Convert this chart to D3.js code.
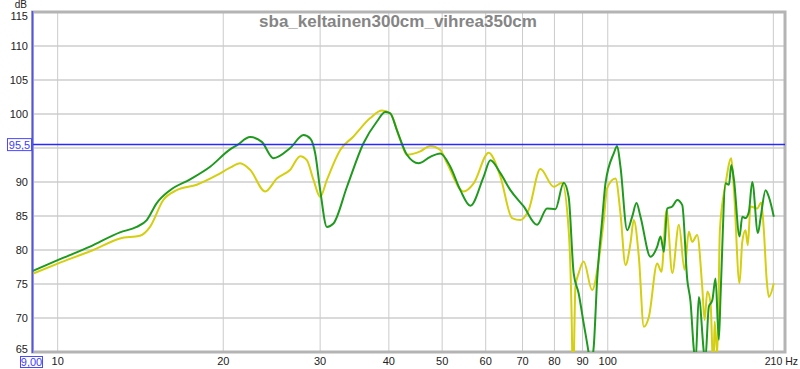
<!DOCTYPE html>
<html>
<head>
<meta charset="utf-8">
<script src="https://cdn.jsdelivr.net/npm/d3@7"></script>
<style>
  body { margin: 0; background: #fff; }
  svg { display: block; font-family: 'Liberation Sans', Arial, sans-serif; }
</style>
</head>
<body>
<script>
'use strict'

const title = 'sba_keltainen300cm_vihrea350cm'

// vihrea (green) trace, 350 cm
const freqGreen = [9.0, 10.0, 11.45, 12.98, 13.92, 14.52, 15.14, 16.01, 17.41, 18.93, 20.58, 21.17, 22.38, 23.5, 24.68, 26.47, 27.98, 28.78, 29.39, 30.01, 30.86, 31.72, 33.57, 35.97, 38.05, 39.4, 40.23, 41.38, 43.15, 45.3, 47.58, 49.62, 51.74, 53.95, 56.26, 59.49, 61.18, 63.8, 66.53, 70.34, 74.38, 77.56, 80.31, 83.15, 84.91, 86.7, 88.54, 90.42, 92.33, 92.99, 94.3, 95.65, 97.68, 99.05, 102.54, 104.01, 105.46, 108.47, 110.77, 112.78, 114.69, 119.61, 123.01, 124.73, 126.47, 128.28, 131.0, 133.77, 136.6, 139.5, 141.4, 143.4, 144.4, 146.4, 149.5, 150.3, 152.7, 154.9, 157.0, 159.2, 160.4, 163.8, 166.1, 167.7, 169.6, 173.6, 175.6, 178.0, 180.5, 183.1, 187.5, 189.6, 193.6, 196.3, 200.4]
const dbGreen = [76.9, 78.5, 80.5, 82.6, 83.4, 84.4, 86.9, 88.8, 90.4, 92.25, 94.8, 95.4, 96.6, 95.9, 93.5, 95.0, 96.9, 96.4, 94.2, 88.8, 83.4, 83.9, 89.3, 95.7, 98.9, 100.3, 100.1, 97.6, 94.0, 92.75, 93.7, 94.2, 92.25, 88.8, 86.5, 90.8, 93.2, 91.3, 88.8, 86.4, 83.7, 86.1, 86.0, 89.9, 87.8, 76.6, 73.6, 69.2, 64.8, 63, 65.8, 75.6, 84.4, 89.8, 94.2, 95.3, 92.25, 82.9, 84.9, 86.9, 84.9, 79.0, 80.5, 82.0, 79.75, 86.1, 86.4, 87.35, 86.6, 75.6, 72.4, 65.3, 63.5, 73.1, 65.0, 63.5, 71.7, 72.6, 75.8, 66.8, 73.6, 89.8, 89.6, 92.5, 90.3, 82.0, 84.9, 84.7, 85.6, 90.0, 82.5, 84.7, 88.8, 87.8, 84.9]

// keltainen (yellow) trace, 300 cm
const freqYellow = [9.0, 10.0, 11.61, 12.98, 14.11, 14.72, 15.56, 16.46, 17.9, 19.47, 20.58, 21.46, 22.38, 23.84, 25.03, 26.47, 27.6, 28.38, 29.18, 30.01, 30.86, 32.63, 34.5, 37.0, 38.86, 40.23, 41.96, 43.15, 45.62, 47.58, 49.62, 51.04, 54.7, 57.05, 60.75, 63.8, 66.99, 69.37, 71.82, 75.42, 79.74, 82.6, 84.91, 86.13, 86.4, 87.34, 88.54, 90.42, 93.67, 96.3, 98.34, 99.75, 103.28, 105.46, 107.7, 109.98, 111.5, 113.9, 116.3, 118.8, 123.01, 125.2, 127.9, 131.0, 134.7, 137.9, 140.4, 142.4, 145.4, 148.5, 150.0, 151.7, 153.8, 154.9, 155.7, 156.4, 158.2, 159.9, 163.8, 167.7, 169.6, 173.6, 175.6, 178.0, 179.7, 181.8, 187.0, 190.1, 192.2, 194.5, 196.3, 200.4]
const dbYellow = [76.5, 78.0, 80.0, 81.7, 82.1, 83.4, 87.35, 88.8, 89.6, 91.0, 92.1, 92.75, 91.8, 88.6, 90.5, 91.8, 93.8, 93.2, 90.3, 87.8, 90.3, 94.7, 96.7, 99.4, 100.5, 100.1, 96.2, 94.0, 94.5, 95.3, 94.7, 92.75, 88.6, 89.8, 94.3, 90.8, 84.7, 84.4, 85.9, 91.9, 89.3, 89.9, 82.9, 66.3, 58, 74.6, 76.6, 78.3, 74.1, 78.5, 84.4, 89.1, 90.5, 85.4, 77.8, 81.0, 84.4, 79.0, 68.7, 70.2, 78.0, 76.8, 85.9, 76.6, 83.7, 77.1, 82.7, 81.2, 82.2, 74.6, 69.7, 73.9, 72.2, 65.3, 62.4, 69.5, 64.6, 82.9, 89.8, 93.5, 88.8, 75.1, 81.2, 82.9, 80.7, 86.4, 86.1, 87.0, 82.9, 75.6, 73.1, 75.1]

const xGrid = [10, 20, 30, 40, 50, 60, 70, 80, 90, 100, 200]
const xLabels = [10, 20, 30, 40, 50, 60, 70, 80, 90, 100]
const yTicks = [65, 70, 75, 80, 85, 90, 95, 100, 105, 110, 115]
// 95 is hidden under the cursor readout
const yLabels = [65, 70, 75, 80, 85, 90, 100, 105, 110, 115]
const cursorDb = 95.5
const cursorHz = 9.0

const width = 800
const height = 369
const plotLeft = 32.5
const plotRight = 785
const plotTop = 12
const plotBottom = 352

const x = d3.scaleLog().domain([9, 210]).range([plotLeft, plotRight])
const y = d3.scaleLinear().domain([65, 115]).range([plotBottom, plotTop])

const svg = d3.select('body').append('svg')
  .attr('width', width)
  .attr('height', height)

svg.append('defs').append('clipPath').attr('id', 'plot')
  .append('rect')
  .attr('x', plotLeft).attr('y', plotTop)
  .attr('width', plotRight - plotLeft).attr('height', plotBottom - plotTop)

// grid
svg.append('g').selectAll('line')
  .data(yTicks)
  .enter().append('line')
  .attr('x1', plotLeft).attr('x2', plotRight)
  .attr('y1', d => y(d)).attr('y2', d => y(d))
  .attr('stroke', '#dadada')
  .attr('stroke-width', 2)

svg.append('g').selectAll('line')
  .data(xGrid)
  .enter().append('line')
  .attr('x1', d => x(d)).attr('x2', d => x(d))
  .attr('y1', plotTop).attr('y2', plotBottom)
  .attr('stroke', '#cbcbcb')
  .attr('stroke-width', 1)

// title sits behind the traces
svg.append('text')
  .attr('x', 398)
  .attr('y', 26.5)
  .attr('text-anchor', 'middle')
  .attr('font-size', 17)
  .attr('font-weight', 'bold')
  .attr('fill', '#858585')
  .text(title)

// frame
svg.append('rect')
  .attr('x', plotLeft).attr('y', plotTop)
  .attr('width', plotRight - plotLeft).attr('height', plotBottom - plotTop)
  .attr('fill', 'none')
  .attr('stroke', '#b4b4b4')
  .attr('stroke-width', 3)

const line = d3.line()
  .x(d => x(d[0]))
  .y(d => y(d[1]))
  .curve(d3.curveMonotoneX)

const traces = [
  { f: freqYellow, v: dbYellow, color: '#d4cf10' },
  { f: freqGreen, v: dbGreen, color: '#1f9a1f' }
]

const plot = svg.append('g').attr('clip-path', 'url(#plot)')
traces.forEach(function (t) {
  plot.append('path')
    .datum(d3.zip(t.f, t.v))
    .attr('d', line)
    .attr('fill', 'none')
    .attr('stroke', t.color)
    .attr('stroke-width', 2)
    .attr('stroke-linejoin', 'round')
})

// cursors
svg.append('line')
  .attr('x1', plotLeft).attr('x2', plotRight)
  .attr('y1', y(cursorDb)).attr('y2', y(cursorDb))
  .attr('stroke', '#2828ff')
  .attr('stroke-width', 1.5)

svg.append('line')
  .attr('x1', x(cursorHz)).attr('x2', x(cursorHz))
  .attr('y1', plotTop - 1).attr('y2', plotBottom + 1)
  .attr('stroke', '#5050ff')
  .attr('stroke-width', 1.5)

// axis labels
const labels = svg.append('g')
  .attr('font-size', 11)
  .attr('fill', '#222')

labels.selectAll('text.y')
  .data(yLabels)
  .enter().append('text')
  .attr('class', 'y')
  .attr('x', 28)
  .attr('y', d => Math.min(Math.max(y(d), 16), 349) + 4)
  .attr('text-anchor', 'end')
  .text(d => d)

labels.append('text')
  .attr('x', 27)
  .attr('y', 8)
  .attr('text-anchor', 'end')
  .attr('font-size', 10)
  .text('dB')

labels.selectAll('text.x')
  .data(xLabels)
  .enter().append('text')
  .attr('class', 'x')
  .attr('x', d => x(d))
  .attr('y', 365)
  .attr('text-anchor', 'middle')
  .text(d => d)

labels.append('text')
  .attr('x', 798)
  .attr('y', 365)
  .attr('text-anchor', 'end')
  .attr('font-size', 10.5)
  .text('210 Hz')

function cursorBox (cx, cy, w, h, label) {
  svg.append('rect')
    .attr('x', cx).attr('y', cy)
    .attr('width', w).attr('height', h)
    .attr('fill', '#fff')
    .attr('stroke', '#4a4aff')
    .attr('stroke-width', 1)
  svg.append('text')
    .attr('x', cx + w / 2)
    .attr('y', cy + h - 2)
    .attr('text-anchor', 'middle')
    .attr('font-size', 11)
    .attr('fill', '#3c3cff')
    .text(label)
}

cursorBox(7.5, y(cursorDb) - 6, 24, 12, '95,5')
cursorBox(20.5, 356.5, 22, 11, '9,00')
</script>
</body>
</html>
